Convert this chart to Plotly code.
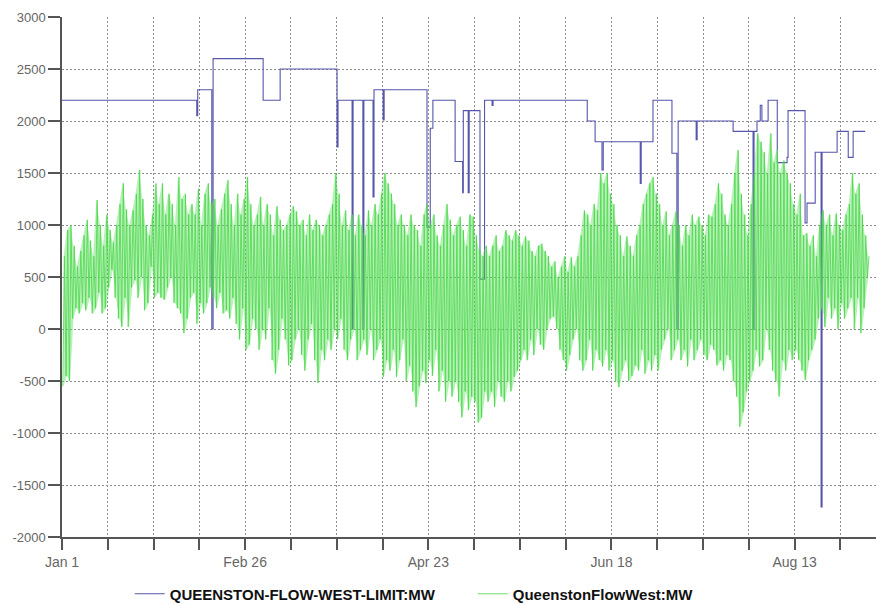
import datetime as dt
import plotly.graph_objects as go

# ---------------- data ----------------
start_date = "2007-01-01"

# QUEENSTON-FLOW-WEST-LIMIT:MW  - step changes (day offset from Jan 1, MW)
limit_day = [0, 41.2, 41.5, 45.8, 46.2, 61.5, 66.7, 84.1, 84.4, 88.7, 89.0,
             92.0, 92.3, 95.1, 95.4, 98.2, 98.5, 111.6, 112.6, 113.4, 120.2,
             122.5, 122.7, 124.2, 124.5, 127.8, 129.2, 131.5, 131.8, 160.6,
             163.0, 165.1, 165.5, 176.8, 177.1, 180.7, 186.5, 188.0, 188.4,
             193.9, 194.2, 205.2, 211.3, 211.6, 212.5, 213.5, 214.0, 215.9,
             218.7, 221.7, 222.0, 227.2, 227.8, 230.3, 232.1, 232.4, 237.0,
             240.4, 241.9, 245.6]
limit_mw = [2200, 2050, 2300, 0, 2600, 2200, 2500, 1750, 2200, 0, 2200,
            0, 2200, 1270, 2300, 2010, 2300, 980, 1930, 2200, 1610,
            1310, 2100, 1310, 2100, 480, 2200, 2150, 2200, 2000,
            1800, 1530, 1800, 1400, 1800, 2200, 1690, 0, 2000,
            1820, 2000, 1900, 0, 1900, 2000, 2150, 2000, 2200,
            1600, 1650, 2100, 1020, 1210, 1700, -1710, 1700, 1900,
            1650, 1900, 1900]

# QueenstonFlowWest:MW - daily low / high swings (MW)
flow_low = [
    -550, -450, -500, 100, 200, 150, 250, 180, 300, 150,
    200, 350, 150, 200, 400, 570, 300, 100, 20, 300,
    20, 400, 470, 300, 500, 180, 250, 600, 300, 350,
    300, 280, 400, 500, 250, 200, 150, -40, 100, 300,
    350, 50, 250, 150, 250, 400, 300, 200, 350, 150,
    180, 100, 300, 50, -100, 200, -200, -150, 100, 0,
    -200, 0, -100, 200, -300, -430, -200, 100, -100, -350,
    -300, -100, 0, -250, -400, -100, 50, -300, -520, -200,
    -300, -100, -200, 0, -100, 100, -200, -300, -100, 0,
    -300, -200, -100, -250, 0, -300, -200, -100, -460, -300,
    -400, -200, -460, -300, -100, -500, -350, -600, -750, -550,
    -400, -520, -300, -450, -200, -600, -400, -700, -500, -650,
    -500, -700, -850, -600, -780, -650, -700, -900, -850, -600,
    -700, -600, -750, -500, -650, -700, -500, -600, -460, -400,
    -300, -200, -300, -100, -250, 0, -150, -200, 0, 100,
    120, 0, -200, -300, -400, -250, -100, 0, -300, -400,
    -300, -100, -400, -200, -300, -360, -200, -400, -300, -500,
    -560, -400, -300, -500, -450, -350, -400, -200, -430, -300,
    -400, -250, -400, -200, -100, 0, -300, -200, -100, -300,
    -200, -360, -100, -300, -200, -100, -250, -300, -150, -200,
    -350, -300, -400, -250, -300, -500, -650, -940, -800, -600,
    -500, -400, -200, -360, -300, 0, -200, -400, -500, -650,
    -300, -400, -200, -300, -200, -300, -400, -490, -300, -200,
    -100, 100, 200, 20, 300, 100, 200, 0, 250, 100,
    200, 300, 0, 300, -40, 200, 500,
]
flow_high = [
    700, 950, 1000, 800, 600, 750, 900, 1050, 850, 700,
    1240, 1000, 800, 1100, 950, 830, 1000, 1200, 1400, 1150,
    1000, 1140, 1300, 1530, 1250, 1000, 900, 1100, 1400, 1200,
    1400, 1100, 1300, 1200, 1000, 1460, 1250, 1300, 1100, 1200,
    1100, 1350, 1000, 1300, 1400, 1200, 1250, 1000, 1150, 1300,
    1430, 1200, 1000, 1300, 1100, 1250, 1460, 1200, 1000, 1100,
    1270, 1000, 1200, 1100, 900, 1180, 1050, 950, 1000, 1100,
    1180, 1130, 1000, 1050, 900, 1100, 950, 1050, 1000, 900,
    1000, 1100, 1200, 1500, 1300, 1000, 1140, 950, 1100, 900,
    1100, 1000, 900, 1140, 1000, 1200, 1100, 1300, 1500, 1400,
    1300, 1200, 1000, 1100, 1000, 900, 1100, 1000, 950, 800,
    1100, 1200, 1000, 1100, 900, 800, 1000, 1200, 1050, 900,
    1000, 1080, 950, 800, 1100, 1080, 900, 760, 700, 800,
    700, 800, 900, 750, 800, 950, 900, 850, 950, 900,
    800, 890, 850, 750, 700, 800, 820, 750, 700, 600,
    650, 500, 600, 700, 550, 690, 600, 700, 900, 1140,
    1100, 1000, 1200, 1140, 1500, 1400, 1500, 1300, 1200, 1000,
    900, 700, 890, 800, 700, 900, 1000, 1200, 1300, 1400,
    1460, 1300, 1200, 1000, 1130, 900, 1000, 1130, 1000, 800,
    1000, 900, 1100, 1000, 1080, 1000, 900, 1100, 1080, 1200,
    1400, 1300, 1100, 1000, 1200, 1500, 1720, 1300, 1100, 900,
    1200, 1500, 1880, 1800, 1700, 1500, 1880, 1600, 1720, 1500,
    1620, 1500, 1400, 1200, 1100, 1300, 900, 920, 800, 900,
    700, 1000, 1140, 1000, 1100, 900, 1110, 1000, 950, 1100,
    1200, 1500, 1300, 1400, 1100, 900, 700,
]

x_tick_labels = ["Jan 1", "Feb 26", "Apr 23", "Jun 18", "Aug 13"]
y_ticks = [-2000, -1500, -1000, -500, 0, 500, 1000, 1500, 2000, 2500, 3000]

# ---------------- build ----------------
t0 = dt.datetime.fromisoformat(start_date)

limit_x = [t0 + dt.timedelta(days=d) for d in limit_day]

n = min(len(flow_low), len(flow_high))
flow_x, flow_y = [], []
for i in range(n):
    flow_x.append(t0 + dt.timedelta(days=i + 0.25))
    flow_y.append(flow_low[i])
    flow_x.append(t0 + dt.timedelta(days=i + 0.75))
    flow_y.append(flow_high[i])

# envelope (daily high forward, daily low backward) for the dense band look
band_x = [t0 + dt.timedelta(days=i + 0.5) for i in range(n)]
band_x = band_x + band_x[::-1]
band_y = list(flow_high[:n]) + list(flow_low[:n])[::-1]

# tick every 14 days, label every 56 days
tick_vals, tick_text = [], []
for k in range(18):
    tick_vals.append(t0 + dt.timedelta(days=14 * k))
    tick_text.append(x_tick_labels[k // 4] if k % 4 == 0 and k // 4 < len(x_tick_labels) else "")

fig = go.Figure()
fig.add_trace(go.Scatter(
    x=limit_x, y=limit_mw, mode="lines", line_shape="hv",
    line=dict(color="#5656ac", width=1.1),
    name="QUEENSTON-FLOW-WEST-LIMIT:MW"))
fig.add_trace(go.Scatter(
    x=band_x, y=band_y, mode="lines", fill="toself",
    fillcolor="rgba(90,222,90,0.42)", line=dict(width=0),
    showlegend=False, hoverinfo="skip"))
fig.add_trace(go.Scatter(
    x=flow_x, y=flow_y, mode="lines",
    line=dict(color="#4ad84a", width=0.8),
    name="QueenstonFlowWest:MW"))

xfont = dict(family="Liberation Sans, Arial, sans-serif", size=14, color="#666666")
yfont = dict(family="Liberation Sans, Arial, sans-serif", size=13, color="#666666")

# page has an 8px body margin; figure is sized/placed to compensate
fig.update_layout(
    width=876, height=596,
    margin=dict(l=54, r=6, t=9, b=67, autoexpand=False),
    paper_bgcolor="white", plot_bgcolor="white",
    showlegend=True,
    legend=dict(orientation="h", x=0.083, xref="paper", xanchor="left",
                y=-0.078, yref="paper", yanchor="top",
                font=dict(family="Liberation Sans, Arial, sans-serif", size=15,
                          color="#111111", weight="bold"),
                itemwidth=30, entrywidth=298, entrywidthmode="pixels"),
    xaxis=dict(
        type="date",
        range=[t0, t0 + dt.timedelta(days=249.5)],
        tickmode="array", tickvals=tick_vals, ticktext=tick_text,
        showgrid=True, gridcolor="#8e8e8e", griddash="2px,2px", gridwidth=1,
        showline=True, linecolor="#555555", linewidth=1.5,
        ticks="outside", ticklen=11, tickcolor="#555555", tickwidth=1.5,
        tickfont=xfont, zeroline=False,
    ),
    yaxis=dict(
        range=[-2000, 3000],
        tickmode="array", tickvals=y_ticks, ticktext=[str(v) for v in y_ticks],
        showgrid=True, gridcolor="#8e8e8e", griddash="2px,2px", gridwidth=1,
        showline=True, linecolor="#555555", linewidth=1.5,
        ticks="outside", ticklen=12, tickcolor="#555555", tickwidth=1.5,
        tickfont=yfont, zeroline=False,
    ),
)

fig.write_html("out.html")
